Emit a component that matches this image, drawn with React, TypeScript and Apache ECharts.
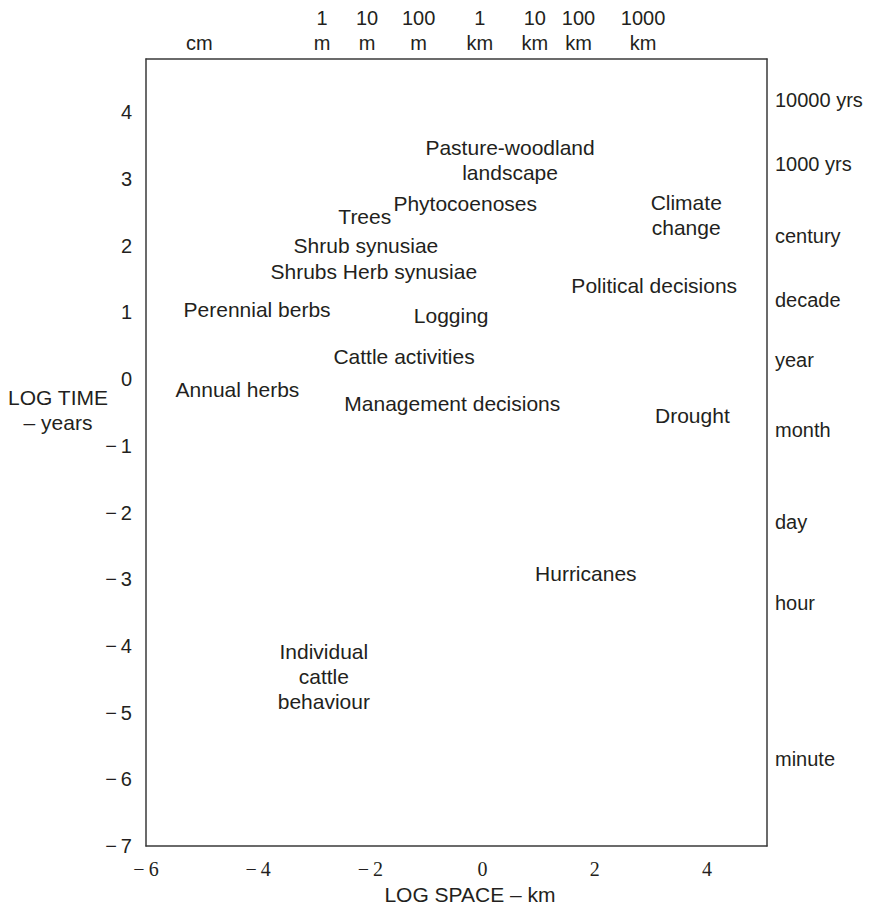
import React, { useEffect, useRef } from "react";
import * as echarts from "echarts";

const xTicks = [-6, -4, -2, 0, 2, 4];
const yTicks = [-7, -6, -5, -4, -3, -2, -1, 0, 1, 2, 3, 4];

const topLabels = ["cm", "1\nm", "10\nm", "100\nm", "1\nkm", "10\nkm", "100\nkm", "1000\nkm"];
const topPositions = [-5.05, -2.86, -2.06, -1.14, -0.05, 0.93, 1.71, 2.86];

const rightLabels = ["10000 yrs", "1000 yrs", "century", "decade", "year", "month", "day", "hour", "minute"];
const rightPositions = [4.19, 3.22, 2.15, 1.18, 0.28, -0.76, -2.14, -3.36, -5.7];

const annLabels = [
  "Pasture-woodland\nlandscape",
  "Phytocoenoses",
  "Trees",
  "Climate\nchange",
  "Shrub synusiae",
  "Shrubs Herb synusiae",
  "Political decisions",
  "Perennial berbs",
  "Logging",
  "Cattle activities",
  "Annual herbs",
  "Management decisions",
  "Drought",
  "Hurricanes",
  "Individual\ncattle\nbehaviour",
];
const annX = [0.49, -0.31, -2.1, 3.63, -2.08, -1.94, 3.06, -4.02, -0.56, -1.4, -4.37, -0.54, 3.74, 1.84, -2.83];
const annY = [3.29, 2.64, 2.44, 2.46, 2.0, 1.62, 1.41, 1.04, 0.95, 0.34, -0.15, -0.36, -0.54, -2.91, -4.46];

const X_MIN = -6;
const X_MAX = 5.07;
const Y_MIN = -7;
const Y_MAX = 4.8;

const TEXT = "#231f20";
const LINE = "#3a3a3a";
const SANS = "Liberation Sans, Arial, Helvetica, sans-serif";
const SERIF = "Liberation Serif, Times New Roman, serif";

const neg = (v: number) => (v < 0 ? "\u2212\u2009" + Math.abs(v) : String(v));
const lookup = (vals: number[], labels: string[], v: number) => {
  let best = 0;
  let d = Infinity;
  vals.forEach((p, i) => {
    const dd = Math.abs(p - v);
    if (dd < d) {
      d = dd;
      best = i;
    }
  });
  return labels[best];
};

export default function App() {
  const ref = useRef<HTMLDivElement>(null);
  useEffect(() => {
    if (!ref.current) return;
    const chart = echarts.init(ref.current, null, { renderer: "svg" });
    const axisLine = { show: true, onZero: false, lineStyle: { color: LINE, width: 1.5 } };
    chart.setOption({
      animation: false,
      backgroundColor: "#ffffff",
      grid: { left: 146, top: 59, width: 621, height: 791, containLabel: false },
      xAxis: [
        {
          type: "value",
          position: "bottom",
          min: X_MIN,
          max: X_MAX,
          axisLine,
          axisTick: { show: false },
          splitLine: { show: false },
          axisLabel: {
            customValues: xTicks,
            formatter: (v: number) => neg(v),
            fontFamily: SERIF,
            fontSize: 20,
            color: TEXT,
            margin: 13,
          },
          name: "LOG SPACE \u2013 km",
          nameLocation: "middle",
          nameGap: 37,
          nameTextStyle: { fontFamily: SANS, fontSize: 21, color: TEXT, padding: [0, 0, 0, 27] },
        },
        {
          type: "value",
          position: "top",
          min: X_MIN,
          max: X_MAX,
          axisLine,
          axisTick: { show: false },
          splitLine: { show: false },
          axisLabel: {
            customValues: topPositions,
            formatter: (v: number) => lookup(topPositions, topLabels, v),
            fontFamily: SANS,
            fontSize: 20,
            lineHeight: 25,
            color: TEXT,
            margin: 4,
          },
        },
      ],
      yAxis: [
        {
          type: "value",
          position: "left",
          min: Y_MIN,
          max: Y_MAX,
          axisLine,
          axisTick: { show: false },
          splitLine: { show: false },
          axisLabel: {
            customValues: yTicks,
            formatter: (v: number) => neg(v),
            fontFamily: SANS,
            fontSize: 20,
            color: TEXT,
            margin: 14,
          },
        },
        {
          type: "value",
          position: "right",
          min: Y_MIN,
          max: Y_MAX,
          axisLine,
          axisTick: { show: false },
          splitLine: { show: false },
          axisLabel: {
            customValues: rightPositions,
            formatter: (v: number) => lookup(rightPositions, rightLabels, v),
            fontFamily: SANS,
            fontSize: 20,
            color: TEXT,
            margin: 8,
          },
        },
      ],
      graphic: [
        {
          type: "text",
          x: 58,
          y: 410,
          style: {
            text: "LOG TIME\n\u2013 years",
            fontFamily: SANS,
            fontSize: 21,
            lineHeight: 25,
            fill: TEXT,
            align: "center",
            verticalAlign: "middle",
          },
        },
      ],
      series: [
        {
          type: "scatter",
          xAxisIndex: 0,
          yAxisIndex: 0,
          silent: true,
          symbolSize: 1,
          itemStyle: { color: "rgba(0,0,0,0)", opacity: 1 },
          data: annLabels.map((t, i) => ({ name: t, value: [annX[i], annY[i]] })),
          label: {
            show: true,
            position: "inside",
            formatter: (p: any) => p.name,
            fontFamily: SANS,
            fontSize: 21,
            lineHeight: 25,
            color: TEXT,
            opacity: 1,
            align: "center",
            verticalAlign: "middle",
          },
        },
      ],
    });
    return () => chart.dispose();
  }, []);
  return (
    <div
      ref={ref}
      style={{ position: "absolute", left: 0, top: 0, width: 873, height: 910, background: "#fff" }}
    />
  );
}
